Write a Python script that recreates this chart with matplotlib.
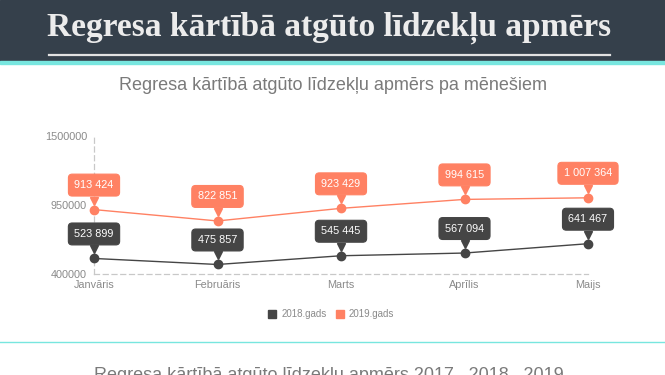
import matplotlib.pyplot as plt
import matplotlib.transforms as mtransforms
from matplotlib.patches import Rectangle
from matplotlib.lines import Line2D

months = ['Janvāris', 'Februāris', 'Marts', 'Aprīlis', 'Maijs']
y2018 = [523899, 475857, 545445, 567094, 641467]
y2019 = [913424, 822851, 923429, 994615, 1007364]
series_names = ['2018.gads', '2019.gads']
yticks = [400000, 950000, 1500000]

c_dark = '#454545'
c_coral = '#ff8163'
c_grey = '#8a8a8a'
c_head = '#35404b'
c_teal = '#78e6df'

W, H = 665, 375
fig = plt.figure(figsize=(W / 100, H / 100), dpi=100)
plt.rcParams['font.family'] = ['Liberation Sans', 'DejaVu Sans']

# header band
fig.patches.append(Rectangle((0, 1 - 62 / H), 1, 62 / H, transform=fig.transFigure,
                             color=c_head, zorder=0))
fig.patches.append(Rectangle((0, 1 - 64 / H), 1, 2.5 / H, transform=fig.transFigure,
                             color=c_teal, zorder=0))
fig.text(329 / W, 1 - 28 / H, 'Regresa kārtībā atgūto līdzekļu apmērs',
         family='Liberation Serif', weight='bold', fontsize=24, color='#ececec',
         ha='center', va='center')
fig.lines.append(Line2D([49 / W, 610 / W], [1 - 55 / H, 1 - 55 / H], transform=fig.transFigure,
                        color='#e2e2e2', lw=1.6))

fig.text(333 / W, 1 - 86 / H, 'Regresa kārtībā atgūto līdzekļu apmērs pa mēnešiem',
         fontsize=13, color='#7a7a7a', ha='center', va='center')

# plot area
ax = fig.add_axes([94 / W, 1 - 274 / H, (588 - 94) / W, (274 - 136) / H])
x = list(range(len(months)))
ax.set_xlim(0, len(months) - 1)
ax.set_ylim(yticks[0], yticks[-1])
for s in ['top', 'right']:
    ax.spines[s].set_visible(False)
for s in ['left', 'bottom']:
    ax.spines[s].set_linestyle((0, (4, 3)))
    ax.spines[s].set_color('#c8c8c8')
    ax.spines[s].set_linewidth(0.9)
ax.set_yticks(yticks)
ax.set_yticklabels([str(v) for v in yticks])
ax.set_xticks(x)
ax.set_xticklabels(months)
ax.tick_params(length=0, labelsize=7.8, colors=c_grey, pad=5)
ax.tick_params(axis='x', pad=4)

for vals, col in [(y2018, c_dark), (y2019, c_coral)]:
    ax.plot(x, vals, color=col, lw=1, marker='o', ms=6, clip_on=False, zorder=3)
    tri = mtransforms.offset_copy(ax.transData, fig=fig, x=0, y=9, units='dots')
    ax.plot(x, vals, linestyle='none', marker='v', ms=5.5, color=col, transform=tri,
            clip_on=False, zorder=4)
    for xi, v in zip(x, vals):
        ax.annotate(f'{v:,}'.replace(',', ' '), (xi, v), xytext=(0, 24.5),
                    textcoords='offset pixels', ha='center', va='center',
                    fontsize=7.8, color='white', zorder=5, annotation_clip=False,
                    bbox=dict(boxstyle='round,pad=0.55,rounding_size=0.35',
                              fc=col, ec=col, lw=0.8))

# legend
ly = 1 - 314 / H
fig.patches.append(Rectangle((268 / W, ly - 4 / H), 8 / W, 8 / H, transform=fig.transFigure,
                             color=c_dark))
fig.text(282 / W, ly, series_names[0], fontsize=7, color=c_grey, va='center')
fig.patches.append(Rectangle((336 / W, ly - 4 / H), 8 / W, 8 / H, transform=fig.transFigure,
                             color=c_coral))
fig.text(349 / W, ly, series_names[1], fontsize=7, color=c_grey, va='center')

fig.lines.append(Line2D([0, 1], [1 - 342 / H, 1 - 342 / H], transform=fig.transFigure,
                        color=c_teal, lw=1))
fig.text(331 / W, 1 - 380 / H, 'Regresa kārtībā atgūto līdzekļu apmērs 2017., 2018., 2019.',
         fontsize=13, color='#7a7a7a', ha='center', va='baseline')

fig.savefig('out.png', dpi=100)
